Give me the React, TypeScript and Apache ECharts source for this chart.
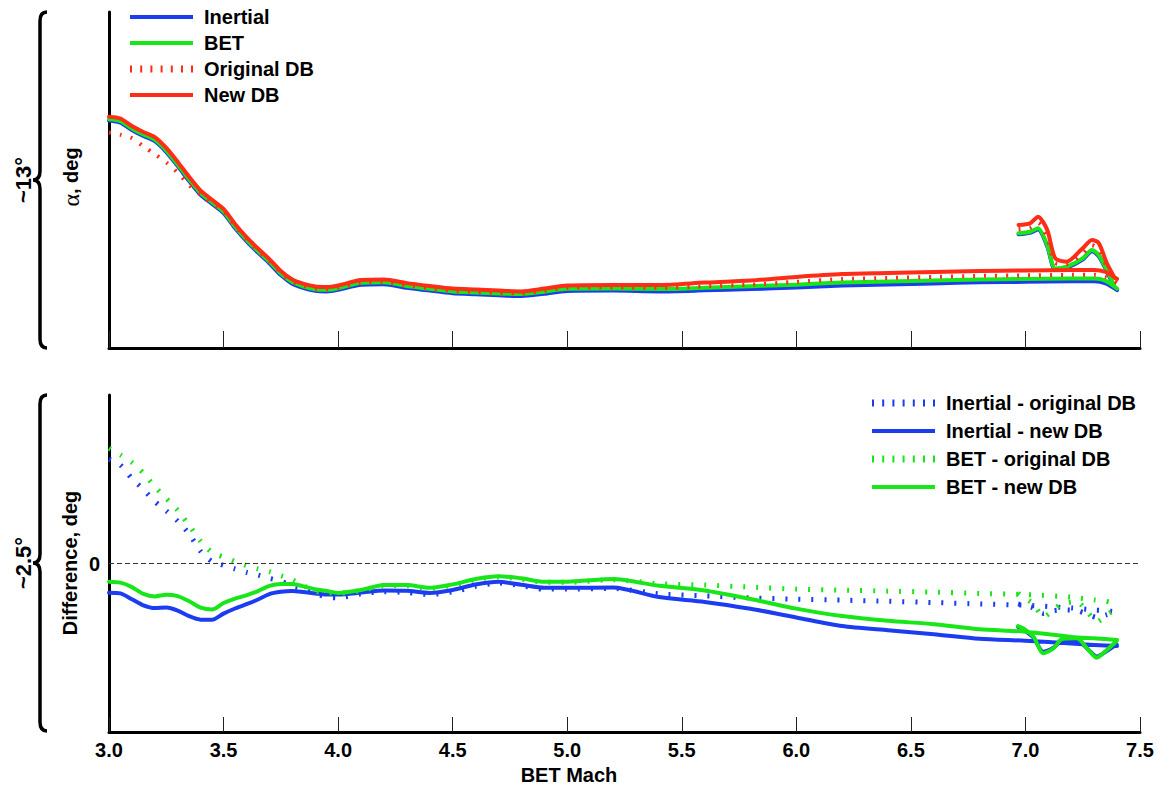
import React, { useEffect, useRef } from "react";
import * as echarts from "echarts";

// ---------- data ----------
const MACH = [3.0, 3.05, 3.1, 3.15, 3.2, 3.25, 3.3, 3.35, 3.4, 3.45, 3.5, 3.55, 3.6, 3.65, 3.7, 3.75, 3.8, 3.85, 3.9, 3.95, 4.0, 4.1, 4.2, 4.3, 4.4, 4.5, 4.6, 4.7, 4.8, 4.9, 5.0, 5.2, 5.4, 5.6, 5.8, 6.0, 6.2, 6.4, 6.6, 6.8, 7.0, 7.2, 7.3, 7.35, 7.4];

const ALPHA_INERTIAL = [8.80, 8.72, 8.43, 8.20, 8.00, 7.58, 7.04, 6.46, 5.93, 5.57, 5.22, 4.64, 4.13, 3.69, 3.28, 2.82, 2.49, 2.32, 2.21, 2.19, 2.25, 2.45, 2.47, 2.33, 2.22, 2.12, 2.08, 2.04, 2.01, 2.10, 2.21, 2.22, 2.19, 2.23, 2.28, 2.34, 2.42, 2.46, 2.50, 2.54, 2.56, 2.58, 2.58, 2.50, 2.24];
const ALPHA_BET = [8.85, 8.78, 8.49, 8.26, 8.06, 7.64, 7.10, 6.52, 5.99, 5.63, 5.28, 4.70, 4.19, 3.75, 3.34, 2.88, 2.55, 2.38, 2.27, 2.25, 2.31, 2.52, 2.54, 2.40, 2.29, 2.19, 2.15, 2.11, 2.09, 2.18, 2.29, 2.30, 2.28, 2.33, 2.39, 2.45, 2.53, 2.57, 2.61, 2.65, 2.67, 2.69, 2.69, 2.60, 2.30];
const ALPHA_ORIG_DB = [8.34, 8.25, 8.12, 7.80, 7.50, 7.18, 6.78, 6.30, 5.92, 5.58, 5.28, 4.72, 4.21, 3.77, 3.36, 2.90, 2.57, 2.40, 2.29, 2.27, 2.33, 2.54, 2.56, 2.42, 2.31, 2.21, 2.17, 2.13, 2.11, 2.21, 2.33, 2.34, 2.32, 2.39, 2.45, 2.56, 2.67, 2.71, 2.75, 2.79, 2.81, 2.83, 2.83, 2.75, 2.52];
const ALPHA_NEW_DB = [8.95, 8.88, 8.59, 8.36, 8.16, 7.74, 7.20, 6.62, 6.09, 5.73, 5.38, 4.80, 4.29, 3.85, 3.44, 2.98, 2.65, 2.48, 2.38, 2.36, 2.42, 2.63, 2.65, 2.51, 2.40, 2.30, 2.26, 2.22, 2.19, 2.30, 2.42, 2.44, 2.44, 2.53, 2.61, 2.75, 2.86, 2.90, 2.94, 2.98, 3.00, 3.02, 3.02, 2.94, 2.67];

// second pass near the end of the run (starts again at ~Mach 7.0)
const BRANCH_MACH_TOP = [6.97, 7.02, 7.055, 7.095, 7.13, 7.18, 7.25, 7.29, 7.32, 7.355, 7.39];
const BR_ALPHA_INERTIAL = [4.40, 4.46, 4.58, 3.94, 3.03, 3.10, 3.42, 3.74, 3.55, 2.97, 2.32];
const BR_ALPHA_BET = [4.44, 4.50, 4.63, 3.99, 3.08, 3.15, 3.47, 3.79, 3.60, 3.02, 2.37];
const BR_ALPHA_ORIG_DB = [4.60, 4.66, 4.85, 4.28, 3.28, 3.25, 3.66, 3.98, 3.83, 3.15, 2.55];
const BR_ALPHA_NEW_DB = [4.76, 4.82, 5.08, 4.57, 3.47, 3.34, 3.86, 4.18, 4.06, 3.29, 2.71];

const DIFF_INERTIAL_ORIG = [0.773, 0.73, 0.63, 0.55, 0.46, 0.39, 0.314, 0.219, 0.09, 0.015, -0.014, -0.04, -0.065, -0.085, -0.11, -0.13, -0.165, -0.19, -0.22, -0.25, -0.255, -0.225, -0.21, -0.215, -0.23, -0.21, -0.17, -0.145, -0.165, -0.19, -0.19, -0.185, -0.225, -0.24, -0.255, -0.265, -0.272, -0.28, -0.29, -0.30, -0.31, -0.33, -0.345, -0.35, -0.36];
const DIFF_INERTIAL_NEW = [-0.217, -0.222, -0.265, -0.311, -0.331, -0.326, -0.349, -0.391, -0.417, -0.418, -0.372, -0.334, -0.302, -0.267, -0.227, -0.21, -0.204, -0.212, -0.222, -0.23, -0.23, -0.216, -0.2, -0.202, -0.218, -0.196, -0.156, -0.136, -0.158, -0.18, -0.18, -0.178, -0.249, -0.285, -0.336, -0.40, -0.464, -0.495, -0.524, -0.558, -0.573, -0.594, -0.605, -0.609, -0.612];
const DIFF_BET_ORIG = [0.855, 0.805, 0.75, 0.67, 0.57, 0.482, 0.394, 0.282, 0.166, 0.082, 0.048, 0.015, -0.015, -0.04, -0.06, -0.09, -0.12, -0.165, -0.205, -0.215, -0.22, -0.2, -0.165, -0.165, -0.185, -0.16, -0.12, -0.10, -0.115, -0.14, -0.14, -0.12, -0.15, -0.16, -0.175, -0.19, -0.198, -0.205, -0.212, -0.222, -0.23, -0.25, -0.27, -0.28, -0.30];
const DIFF_BET_NEW = [-0.135, -0.142, -0.175, -0.226, -0.244, -0.232, -0.242, -0.28, -0.327, -0.341, -0.293, -0.26, -0.236, -0.205, -0.166, -0.152, -0.152, -0.17, -0.191, -0.204, -0.218, -0.197, -0.16, -0.16, -0.18, -0.155, -0.115, -0.094, -0.11, -0.135, -0.135, -0.115, -0.165, -0.20, -0.263, -0.335, -0.39, -0.425, -0.45, -0.488, -0.506, -0.545, -0.555, -0.56, -0.567];

const BRANCH_MACH_BOT = [6.968, 6.991, 7.035, 7.078, 7.122, 7.158, 7.224, 7.275, 7.311, 7.355, 7.398];
const BR_DIFF_INERTIAL_ORIG = [-0.30, -0.31, -0.33, -0.37, -0.35, -0.345, -0.35, -0.38, -0.40, -0.38, -0.357];
const BR_DIFF_INERTIAL_NEW = [-0.47, -0.49, -0.55, -0.655, -0.625, -0.575, -0.57, -0.64, -0.69, -0.65, -0.60];
const BR_DIFF_BET_ORIG = [-0.22, -0.25, -0.30, -0.395, -0.345, -0.30, -0.283, -0.369, -0.432, -0.382, -0.332];
const BR_DIFF_BET_NEW = [-0.464, -0.481, -0.543, -0.666, -0.629, -0.562, -0.555, -0.642, -0.699, -0.642, -0.575];

const X_TICKS_MIN = 3.0;
const X_TICKS_MAX = 7.5;
const X_TICK_STEP = 0.5;

// ---------- style ----------
const BLUE = "#1c3cf2";
const GREEN = "#19e619";
const RED = "#ff2d17";
const FONT = '"Liberation Sans", Arial, sans-serif';

const SOLID_ICON = "path://M0,0h63v4h-63z";
const DOTTED_ICON =
  "path://M0,0h2v7h-2z M10.2,0h2v7h-2z M20.4,0h2v7h-2z M30.6,0h2v7h-2z M40.8,0h2v7h-2z M51,0h2v7h-2z M61,0h2v7h-2z";

const BRACE_D =
  "M47,0 Q40,0 40,9 L40,159 Q40,168 33,168 Q40,168 40,177 L40,327 Q40,336 47,336";
echarts.graphic.registerShape("brace", echarts.graphic.extendPath(BRACE_D, {}));

function build(main: number[], brX: number[], brY: number[]) {
  const pts: any[] = MACH.map((m, i) => [m, main[i]]);
  pts.push([7.2, "-"]);
  brX.forEach((m, i) => pts.push([m, brY[i]]));
  return pts;
}

function lineSeries(name: string, color: string, dotted: boolean, grid: number, data: any[], extra: any = {}) {
  return {
    name,
    type: "line",
    xAxisIndex: grid,
    yAxisIndex: grid,
    symbol: "none",
    smooth: 0.25,
    connectNulls: false,
    itemStyle: { color },
    lineStyle: dotted
      ? { color, width: grid === 0 ? 4 : 5, type: [2, grid === 0 ? 9 : 11], cap: "butt" }
      : { color, width: 4, type: "solid", cap: "round", join: "round" },
    emphasis: { disabled: true },
    data,
    ...extra,
  };
}

export default function App() {
  const ref = useRef<HTMLDivElement>(null);

  useEffect(() => {
    if (!ref.current) return;
    const chart = echarts.init(ref.current, undefined, { renderer: "svg" });

    const axisLine = { show: true, onZero: false, lineStyle: { color: "#000", width: 3 } };
    const legendText = {
      fontFamily: FONT,
      fontWeight: "bold",
      fontSize: 20,
      color: "#000",
      lineHeight: 20,
      padding: [0, 0, 0, 6],
    };

    const option: any = {
      animation: false,
      backgroundColor: "#fff",
      grid: [
        { left: 109, right: 22, top: 12, height: 336 },
        { left: 109, right: 22, top: 395, height: 337 },
      ],
      xAxis: [0, 1].map((g) => ({
        gridIndex: g,
        type: "value",
        min: X_TICKS_MIN,
        max: X_TICKS_MAX,
        interval: X_TICK_STEP,
        axisLine,
        axisTick: { show: true, inside: true, length: g === 0 ? 17 : 15, lineStyle: { color: "#222", width: 1 } },
        axisLabel: {
          show: g === 1,
          formatter: (v: number) => v.toFixed(1),
          fontFamily: FONT,
          fontWeight: "bold",
          fontSize: 20,
          color: "#000",
          margin: 8,
        },
        splitLine: { show: false },
      })),
      yAxis: [
        {
          gridIndex: 0,
          type: "value",
          min: 0,
          max: 13,
          axisLine,
          axisTick: { show: false },
          axisLabel: { show: false },
          splitLine: { show: false },
        },
        {
          gridIndex: 1,
          type: "value",
          min: -1.25,
          max: 1.25,
          interval: 1.25,
          axisLine,
          axisTick: { show: false },
          axisLabel: {
            formatter: (v: number) => (Math.abs(v) < 1e-9 ? "0" : ""),
            fontFamily: FONT,
            fontWeight: "bold",
            fontSize: 20,
            color: "#000",
            margin: 9,
          },
          splitLine: { show: false },
        },
      ],
      legend: [
        {
          orient: "vertical",
          left: 130,
          top: 7,
          padding: 0,
          itemWidth: 63,
          itemHeight: 7,
          itemGap: 6,
          symbolKeepAspect: true,
          selectedMode: false,
          itemStyle: { borderWidth: 0 },
          textStyle: legendText,
          data: [
            { name: "Inertial", icon: SOLID_ICON },
            { name: "BET", icon: SOLID_ICON },
            { name: "Original DB", icon: DOTTED_ICON },
            { name: "New DB", icon: SOLID_ICON },
          ],
        },
        {
          orient: "vertical",
          left: 872,
          top: 393,
          padding: 0,
          itemWidth: 63,
          itemHeight: 7,
          itemGap: 8,
          symbolKeepAspect: true,
          selectedMode: false,
          itemStyle: { borderWidth: 0 },
          textStyle: legendText,
          data: [
            { name: "Inertial - original DB", icon: DOTTED_ICON },
            { name: "Inertial - new DB", icon: SOLID_ICON },
            { name: "BET - original DB", icon: DOTTED_ICON },
            { name: "BET - new DB", icon: SOLID_ICON },
          ],
        },
      ],
      series: [
        lineSeries("Inertial", BLUE, false, 0, build(ALPHA_INERTIAL, BRANCH_MACH_TOP, BR_ALPHA_INERTIAL)),
        lineSeries("BET", GREEN, false, 0, build(ALPHA_BET, BRANCH_MACH_TOP, BR_ALPHA_BET)),
        lineSeries("Original DB", RED, true, 0, build(ALPHA_ORIG_DB, BRANCH_MACH_TOP, BR_ALPHA_ORIG_DB)),
        lineSeries("New DB", RED, false, 0, build(ALPHA_NEW_DB, BRANCH_MACH_TOP, BR_ALPHA_NEW_DB)),
        lineSeries(
          "Inertial - original DB",
          BLUE,
          true,
          1,
          build(DIFF_INERTIAL_ORIG, BRANCH_MACH_BOT, BR_DIFF_INERTIAL_ORIG),
          {
            markLine: {
              silent: true,
              symbol: ["none", "none"],
              label: { show: false },
              lineStyle: { color: "#333", width: 1, type: [5, 3] },
              data: [{ yAxis: 0 }],
            },
          }
        ),
        lineSeries("Inertial - new DB", BLUE, false, 1, build(DIFF_INERTIAL_NEW, BRANCH_MACH_BOT, BR_DIFF_INERTIAL_NEW)),
        lineSeries("BET - original DB", GREEN, true, 1, build(DIFF_BET_ORIG, BRANCH_MACH_BOT, BR_DIFF_BET_ORIG)),
        lineSeries("BET - new DB", GREEN, false, 1, build(DIFF_BET_NEW, BRANCH_MACH_BOT, BR_DIFF_BET_NEW)),
      ],
      graphic: [
        { type: "brace", x: 0, y: 12, style: { stroke: "#000", fill: "none", lineWidth: 3.5 } },
        { type: "brace", x: 0, y: 395, style: { stroke: "#000", fill: "none", lineWidth: 3.5 } },
        {
          type: "text",
          x: 23,
          y: 180,
          rotation: Math.PI / 2,
          style: { text: "~13°", font: `bold 22px ${FONT}`, fill: "#000", textAlign: "center", textVerticalAlign: "middle" },
        },
        {
          type: "text",
          x: 23,
          y: 563,
          rotation: Math.PI / 2,
          style: { text: "~2.5°", font: `bold 22px ${FONT}`, fill: "#000", textAlign: "center", textVerticalAlign: "middle" },
        },
        {
          type: "text",
          x: 71,
          y: 177,
          rotation: Math.PI / 2,
          style: {
            text: "{a|α}{b|, deg}",
            textAlign: "center",
            textVerticalAlign: "middle",
            fill: "#000",
            rich: {
              a: { fontFamily: '"Liberation Serif", serif', fontSize: 24, fill: "#000", color: "#000" },
              b: { fontFamily: FONT, fontWeight: "bold", fontSize: 20, fill: "#000", color: "#000" },
            },
          },
        },
        {
          type: "text",
          x: 70,
          y: 563,
          rotation: Math.PI / 2,
          style: { text: "Difference, deg", font: `bold 20px ${FONT}`, fill: "#000", textAlign: "center", textVerticalAlign: "middle" },
        },
        {
          type: "text",
          x: 569,
          y: 775,
          style: { text: "BET Mach", font: `bold 20px ${FONT}`, fill: "#000", textAlign: "center", textVerticalAlign: "middle" },
        },
      ],
    };

    chart.setOption(option);
    return () => chart.dispose();
  }, []);

  return (
    <div
      ref={ref}
      style={{ position: "fixed", left: 0, top: 0, width: 1162, height: 789, background: "#fff" }}
    />
  );
}
